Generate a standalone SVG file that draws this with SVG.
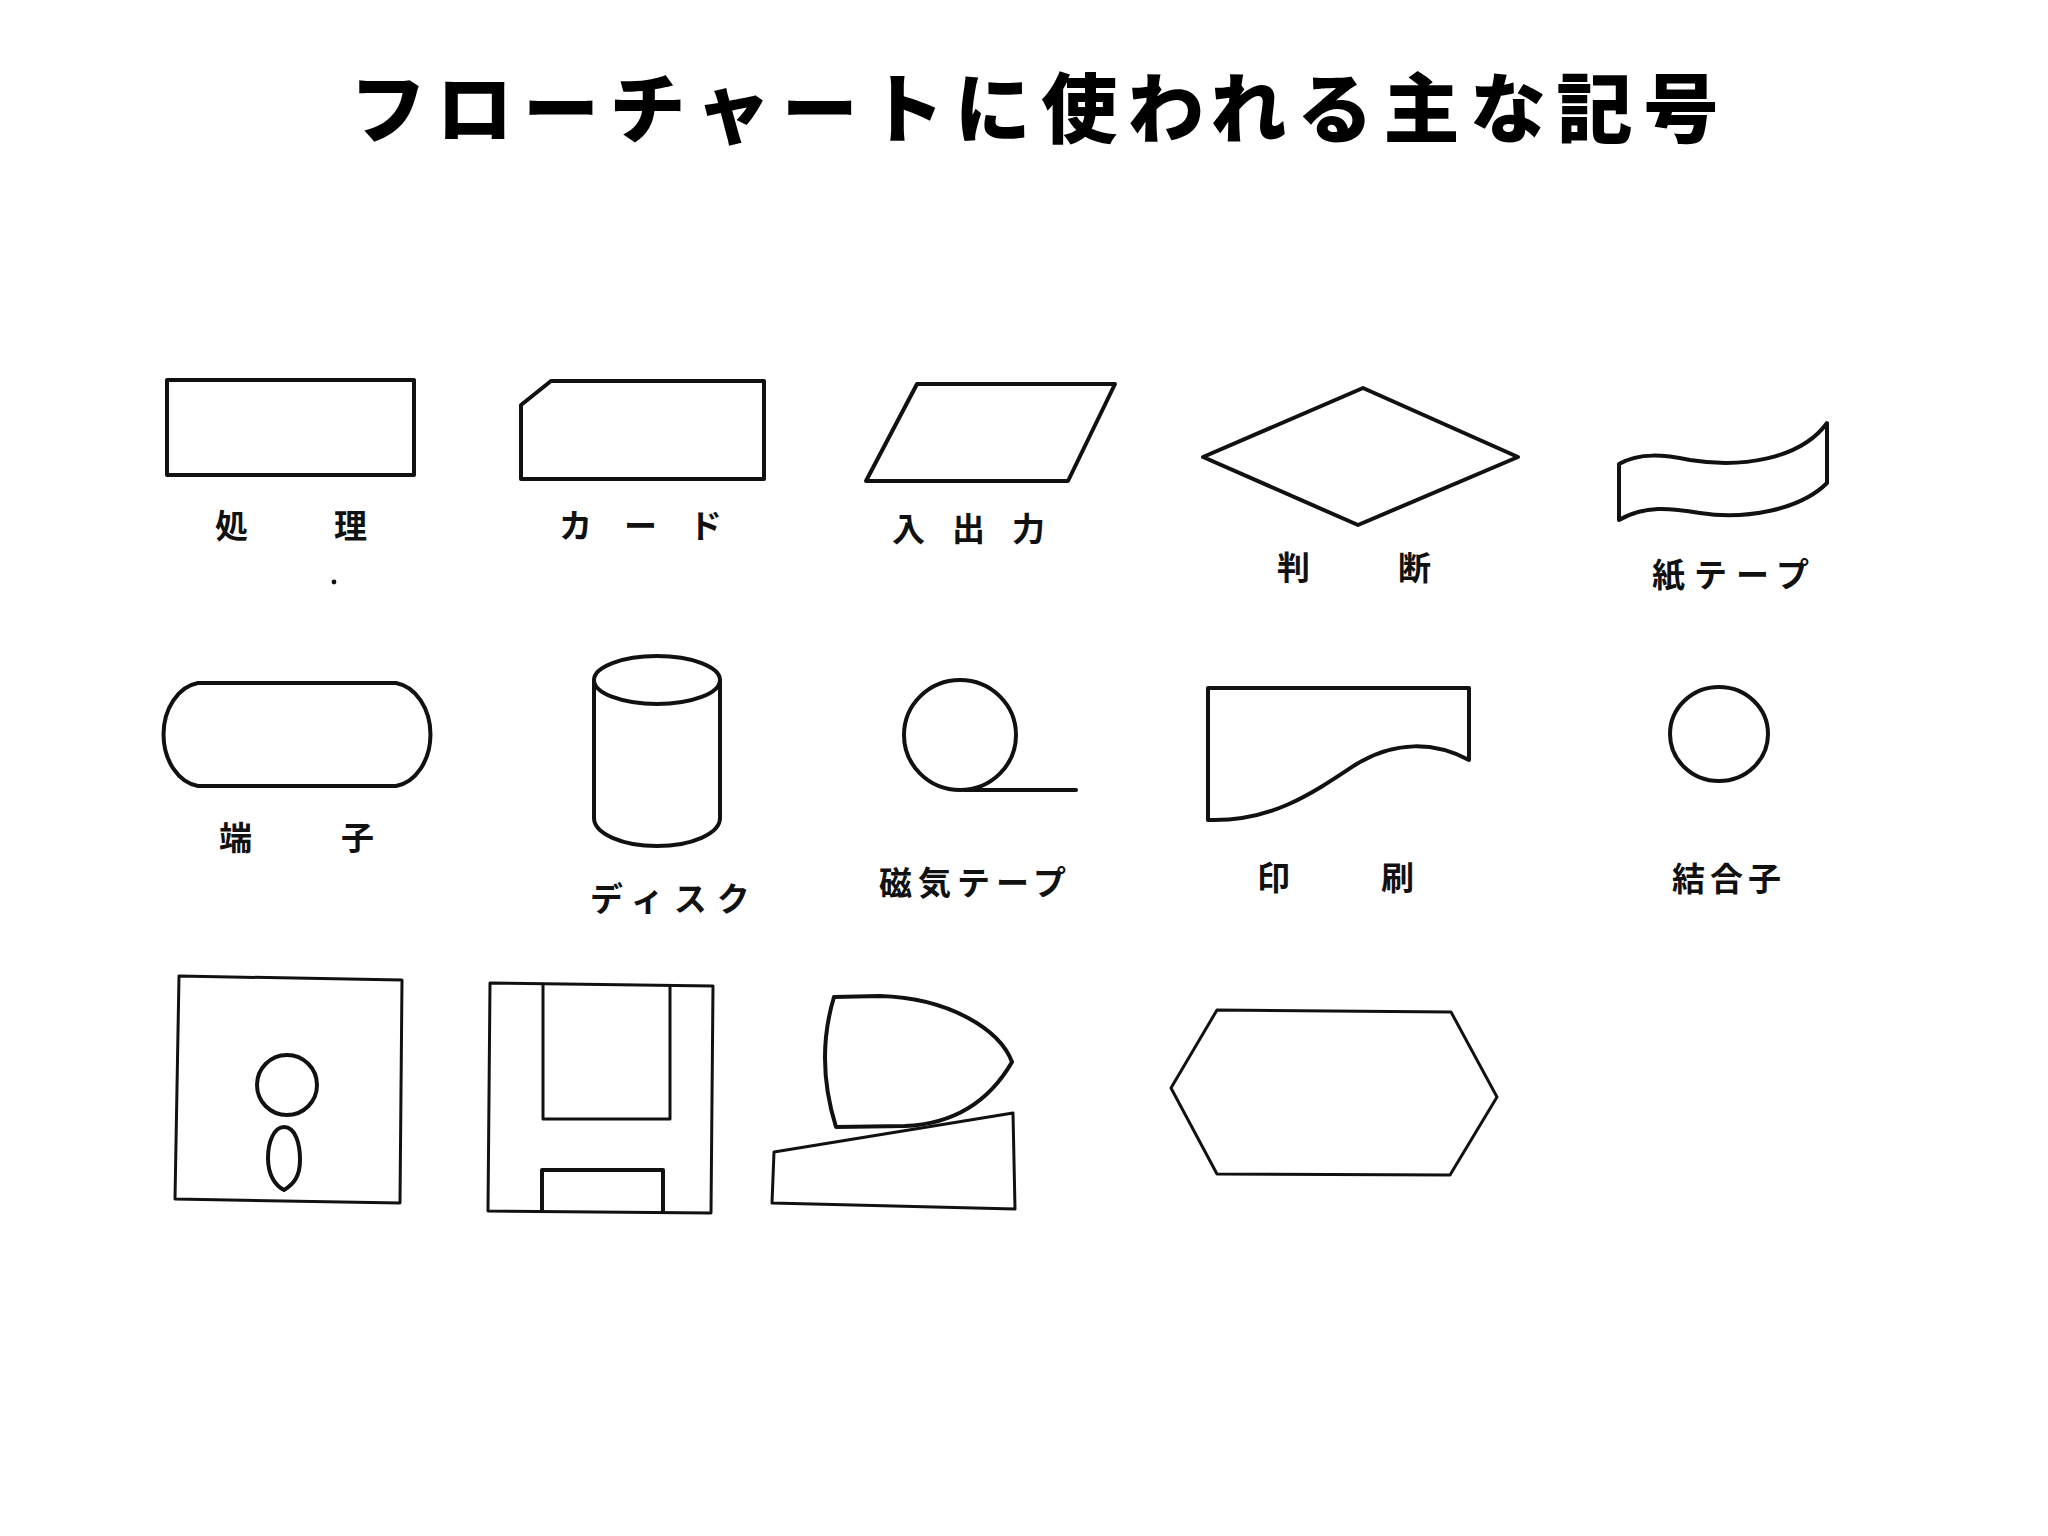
<svg xmlns="http://www.w3.org/2000/svg" width="2048" height="1536" viewBox="0 0 2048 1536">
<style>
.s{fill:none;stroke:#111;stroke-width:4;stroke-linejoin:round;stroke-linecap:round}
.t{fill:none;stroke:#111;stroke-width:3;stroke-linejoin:round;stroke-linecap:round}
.lb{font-family:"Noto Sans CJK JP","Noto Sans CJK SC",sans-serif;font-size:33px;font-weight:700;fill:#111}
.title{font-family:"Noto Sans CJK JP","Noto Sans CJK SC",sans-serif;font-size:76px;font-weight:900;fill:#000}
</style>
<rect width="2048" height="1536" fill="#fff"/>
<text class="title" x="350" y="137" letter-spacing="10.5">フローチャートに使われる主な記号</text>
<g id="connectors"></g>
<g id="shori">
<rect class="s" x="167" y="380" width="247" height="95"/>
<text class="lb" x="215" y="538" letter-spacing="86">処理</text>
</g>
<circle cx="334" cy="582" r="2.4" fill="#111"/>
<g id="card">
<path class="s" d="M551,381 H764 V479 H521 V405 Z"/>
<text class="lb" x="559" y="538" letter-spacing="32">カード</text>
</g>
<g id="io">
<path class="s" d="M917,384 H1115 L1068,481 H866 Z"/>
<text class="lb" x="892" y="541" letter-spacing="27">入出力</text>
</g>
<g id="decision">
<path class="s" d="M1203,457 L1363,388 L1518,457 L1358,525 Z"/>
<text class="lb" x="1277" y="580" letter-spacing="88">判断</text>
</g>
<g id="papertape">
<path class="s" d="M1619,464 C1640,452 1665,455 1690,460 C1740,468 1800,460 1827,423 V483 C1800,510 1745,520 1700,513 C1670,508 1645,505 1619,520 Z"/>
<text class="lb" x="1652" y="587" letter-spacing="9">紙テープ</text>
</g>
<g id="terminal">
<path class="s" d="M198,683 H396 A40,52 0 0 1 396,786 H198 A40,52 0 0 1 198,683 Z"/>
<text class="lb" x="219" y="850" letter-spacing="89">端子</text>
</g>
<g id="disk">
<ellipse class="s" cx="657" cy="680" rx="63" ry="24"/>
<path class="s" d="M594,680 V818 A63,28 0 0 0 720,818 V680"/>
<text class="lb" x="590" y="911" letter-spacing="10">ディスク</text>
</g>
<g id="magtape">
<ellipse class="s" cx="960" cy="735" rx="56" ry="55"/>
<path class="s" d="M965,790 H1076"/>
<text class="lb" x="879" y="895" letter-spacing="6">磁気テープ</text>
</g>
<g id="print">
<path class="s" d="M1208,688 H1469 V760 C1435,742 1395,740 1355,765 C1310,795 1270,822 1208,820 Z"/>
<text class="lb" x="1257" y="890" letter-spacing="91">印刷</text>
</g>
<g id="connector">
<ellipse class="s" cx="1719" cy="734" rx="49" ry="47"/>
<text class="lb" x="1672" y="891" letter-spacing="5">結合子</text>
</g>
<g id="shape-a">
<path class="t" d="M179,976 L402,980 L400,1203 L175,1199 Z"/>
<ellipse class="s" cx="287" cy="1085" rx="30" ry="30"/>
<path class="s" d="M284,1127 C296,1127 300,1145 300,1160 C300,1176 294,1184 284,1190 C276,1186 268,1176 268,1158 C268,1142 274,1127 284,1127 Z"/>
</g>
<g id="shape-b">
<path class="t" d="M490,983 L713,986 L711,1213 L488,1211 Z"/>
<path class="t" d="M543,985 V1119 H670 V986"/>
<path class="s" d="M542,1211 V1170 H663 V1212"/>
</g>
<g id="shape-c">
<path class="s" d="M834,997 L880,996 C950,998 1000,1030 1012,1062 C990,1100 955,1124 905,1126 L836,1127 Q815,1060 834,997 Z"/>
<path class="t" d="M774,1152 L1013,1113 L1015,1209 L772,1203 Z"/>
</g>
<g id="shape-d">
<path class="t" d="M1217,1010 L1451,1012 L1497,1097 L1450,1175 L1217,1174 L1171,1088 Z"/>
</g>
</svg>
